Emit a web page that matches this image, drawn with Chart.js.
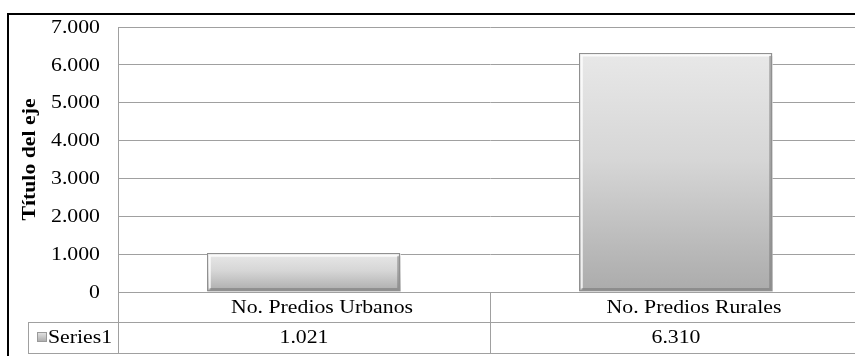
<!DOCTYPE html>
<html>
<head>
<meta charset="utf-8">
<script src="https://cdn.jsdelivr.net/npm/chart.js@4"></script>
<style>
  html, body { margin: 0; padding: 0; background: #fff; overflow: hidden; }
  #wrap { width: 880px; height: 356px; }
</style>
</head>
<body>
<div id="wrap"><canvas id="chart"></canvas></div>
<script>
const categories = ['No. Predios Urbanos', 'No. Predios Rurales'];
const seriesName = 'Series1';
const seriesValues = [1021, 6310];
const yTickLabels = ['0', '1.000', '2.000', '3.000', '4.000', '5.000', '6.000', '7.000'];
const axisTitle = 'Título del eje';

const grid_color = '#a0a0a0';
const serif = "'Liberation Serif', 'Times New Roman', serif";
const wide = 1.21;   // the source text is drawn wider than normal

// 1021 -> "1.021"
function fmt(v){
    return String(v).replace(/\B(?=(\d{3})+(?!\d))/g, '.');
}

// text widened along its own baseline
function wideText(ctx, text, x, y, align, angle){
    ctx.save();
    ctx.translate(x, y);
    if (angle) ctx.rotate(angle);
    ctx.scale(wide, 1);
    ctx.textAlign = align;
    ctx.fillText(text, 0, 0);
    ctx.restore();
}

function barGradient(context){
    const chart = context.chart;
    const y = chart.scales.y;
    if (!y || context.raw === undefined) return '#d8d8d8';
    const top = y.getPixelForValue(context.raw);
    const base = y.getPixelForValue(0);
    if (!isFinite(top) || !isFinite(base) || top === base) return '#d8d8d8';
    const g = chart.ctx.createLinearGradient(0, top, 0, base);
    g.addColorStop(0, '#e8e8e8');
    g.addColorStop(0.45, '#d6d6d6');
    g.addColorStop(1, '#ababab');
    return g;
}

// bevel look of the bars
const bevelPlugin = {
    id: 'bevel',
    afterDatasetsDraw(chart){
        const ctx = chart.ctx;
        chart.getDatasetMeta(0).data.forEach(bar => {
            const l = bar.x - bar.width/2, r = bar.x + bar.width/2;
            const t = bar.y, b = bar.base;
            ctx.save();
            ctx.lineWidth = 2;
            ctx.strokeStyle = 'rgba(255,255,255,0.8)';
            ctx.beginPath();
            ctx.moveTo(l + 2.5, b - 3); ctx.lineTo(l + 2.5, t + 2.5); ctx.lineTo(r - 3, t + 2.5);
            ctx.stroke();
            ctx.lineWidth = 3;
            ctx.strokeStyle = 'rgba(110,110,110,0.5)';
            ctx.beginPath();
            ctx.moveTo(r - 2, t + 3); ctx.lineTo(r - 2, b - 2); ctx.lineTo(l + 3, b - 2);
            ctx.stroke();
            ctx.lineWidth = 1;
            ctx.strokeStyle = '#909090';
            ctx.strokeRect(Math.round(l) + 0.5, Math.round(t) + 0.5, Math.round(r - l) - 1, Math.round(b - t) - 1);
            ctx.restore();
        });
    }
};

// y tick labels and axis title
const axisTextPlugin = {
    id: 'axistext',
    afterDraw(chart){
        const ctx = chart.ctx;
        const y = chart.scales.y;
        const area = chart.chartArea;
        ctx.save();
        ctx.fillStyle = '#000';
        ctx.textBaseline = 'middle';
        ctx.font = '18px ' + serif;
        y.ticks.forEach((t, i) => {
            wideText(ctx, yTickLabels[i], 100, y.getPixelForValue(t.value) + 1, 'right');
        });
        ctx.font = 'bold 18px ' + serif;
        wideText(ctx, axisTitle, 30, (area.top + area.bottom) / 2, 'center', -Math.PI / 2);
        ctx.restore();
    }
};

// data table under the plot + outer frame
const tablePlugin = {
    id: 'datatable',
    afterDraw(chart){
        const ctx = chart.ctx;
        const x = chart.scales.x;
        const area = chart.chartArea;
        const rowH = 30;
        const r1 = area.bottom, r2 = r1 + rowH, r3 = r2 + rowH + 1;
        const tableLeft = 28;
        const right = x.right;
        ctx.save();
        ctx.strokeStyle = grid_color;
        ctx.lineWidth = 1;
        ctx.beginPath();
        ctx.moveTo(tableLeft, r2 + 0.5); ctx.lineTo(right, r2 + 0.5);
        ctx.moveTo(tableLeft, r3 + 0.5); ctx.lineTo(right, r3 + 0.5);
        ctx.moveTo(tableLeft + 0.5, r2); ctx.lineTo(tableLeft + 0.5, r3);
        ctx.moveTo(Math.round(area.left) + 0.5, r1); ctx.lineTo(Math.round(area.left) + 0.5, r3);
        for (let i = 1; i <= categories.length; i++) {
            const px = Math.round(area.left + (right - area.left) * i / categories.length) + 0.5;
            ctx.moveTo(px, r1); ctx.lineTo(px, r3);
        }
        ctx.stroke();

        ctx.fillStyle = '#000';
        ctx.font = '18px ' + serif;
        ctx.textBaseline = 'middle';
        categories.forEach((c, i) => {
            const px = x.getPixelForValue(i);
            // category names sit a little right of the cell centre in the source
            wideText(ctx, c, px + 18, r1 + rowH/2 + 1, 'center');
            wideText(ctx, fmt(seriesValues[i]), px, r2 + rowH/2 + 1, 'center');
        });
        wideText(ctx, seriesName, 48, r2 + rowH/2 + 1, 'left');

        // legend key
        const kg = ctx.createLinearGradient(0, r2 + 10, 0, r2 + 20);
        kg.addColorStop(0, '#e6e6e6');
        kg.addColorStop(1, '#a8a8a8');
        ctx.fillStyle = kg;
        ctx.fillRect(37, r2 + 10, 10, 10);
        ctx.strokeStyle = '#9a9a9a';
        ctx.strokeRect(37.5, r2 + 10.5, 9, 9);

        // outer frame
        ctx.strokeStyle = '#000';
        ctx.lineWidth = 2;
        ctx.strokeRect(8, 14, 900, 400);
        ctx.restore();
    }
};

const data = {
    labels: categories,
    datasets: [{
        label: seriesName,
        data: seriesValues,
        backgroundColor: barGradient,
        borderWidth: 0,
        categoryPercentage: 1,
        barPercentage: 0.52
    }]
};

const config = {
    type: 'bar',
    data: data,
    options: {
        responsive: true,
        maintainAspectRatio: false,
        animation: false,
        layout: {
            padding: { top: 27, right: 18, bottom: 64, left: 0 }
        },
        plugins: {
            legend: { display: false },
            tooltip: { enabled: false }
        },
        scales: {
            x: {
                display: false,
                offset: true
            },
            y: {
                min: 0,
                max: 7000,
                afterFit(scale){ scale.width = 118; },
                ticks: {
                    display: false,
                    stepSize: 1000
                },
                grid: {
                    color: grid_color,
                    drawTicks: false
                },
                border: { color: grid_color },
                title: { display: false }
            }
        }
    },
    plugins: [bevelPlugin, axisTextPlugin, tablePlugin]
};

const myChart = new Chart(document.getElementById('chart'), config);
</script>
</body>
</html>
